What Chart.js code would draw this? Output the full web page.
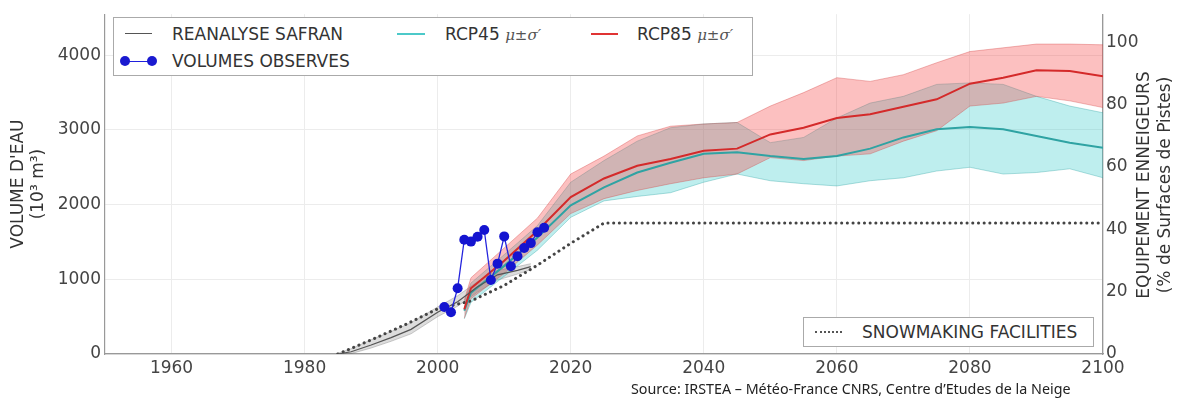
<!DOCTYPE html>
<html>
<head>
<meta charset="utf-8">
<script src="https://cdn.jsdelivr.net/npm/chart.js@4.4.0/dist/chart.umd.min.js"></script>
<style>
  body { margin: 0; background: #fff; }
  #wrap { position: relative; width: 1179px; height: 403px; font-family: "DejaVu Sans", sans-serif; color: #333; }
  #chart { position: absolute; left: 0; top: 0; }
  .box { position: absolute; background: #fff; border: 1px solid #aaa; box-sizing: border-box; }
  .txt { position: absolute; font-size: 17px; line-height: 20px; white-space: nowrap; }
  .sw { position: absolute; height: 0; }
  .dot { position: absolute; width: 10px; height: 10px; border-radius: 50%; background: #1a1ad0; }
  .math { font-family: "DejaVu Serif", serif; font-style: italic; font-size: 15px; color: #555; }
  .rot { position: absolute; width: 320px; text-align: center; font-size: 17px; line-height: 20px; transform: rotate(-90deg); white-space: nowrap; }
  #source { position: absolute; left: 631px; top: 380px; font-family: "Noto Sans", sans-serif; font-size: 14.3px; line-height: 18px; color: #222; white-space: nowrap; }
</style>
</head>
<body>
<div id="wrap">
  <canvas id="chart" width="1179" height="403"></canvas>

  <!-- top legend -->
  <div class="box" style="left:113px; top:17px; width:640px; height:59px;"></div>
  <div class="sw" style="left:125px; top:33px; width:27px; border-top:1.5px solid #555;"></div>
  <div class="txt" style="left:172px; top:24px;">REANALYSE SAFRAN</div>
  <div class="sw" style="left:126px; top:61px; width:26px; border-top:1.5px solid #2020dd;"></div>
  <div class="dot" style="left:120px; top:56px;"></div>
  <div class="dot" style="left:147px; top:56px;"></div>
  <div class="txt" style="left:172px; top:51px;">VOLUMES OBSERVES</div>
  <div class="sw" style="left:397px; top:33px; width:28px; border-top:2px solid #4cc9c9;"></div>
  <div class="txt" style="left:445px; top:24px;">RCP45 <span class="math">μ±σ′</span></div>
  <div class="sw" style="left:591px; top:33px; width:27px; border-top:2px solid #e03333;"></div>
  <div class="txt" style="left:637px; top:24px;">RCP85 <span class="math">μ±σ′</span></div>

  <!-- bottom right legend -->
  <div class="box" style="left:803px; top:317px; width:291px; height:30px;"></div>
  <div class="sw" style="left:815px; top:331px; width:27px; border-top:2.5px dotted #555;"></div>
  <div class="txt" style="left:862px; top:322px;">SNOWMAKING FACILITIES</div>

  <!-- right axis title -->
  <div class="rot" style="left:983px; top:175px;">EQUIPEMENT ENNEIGEURS</div>
  <div class="rot" style="left:1004px; top:175px;">(% de Surfaces de Pistes)</div>

  <div id="source">Source: IRSTEA – Météo-France CNRS, Centre d’Etudes de la Neige</div>
</div>

<script>
// axes
const xTicks = [1960, 1980, 2000, 2020, 2040, 2060, 2080, 2100];
const volTicks = [0, 1000, 2000, 3000, 4000];
const pctTicks = [0, 20, 40, 60, 80, 100];

// reanalyse SAFRAN (10^3 m3)
const safranYears = [1985, 1987, 1990, 1993, 1996, 2000, 2003, 2006, 2009, 2012, 2014];
const safranMean  = [0, 30, 120, 220, 330, 560, 700, 900, 1060, 1120, 1170];
const safranUp    = [10, 70, 190, 300, 420, 630, 780, 970, 1120, 1170, 1210];
const safranLow   = [0, 5, 80, 170, 270, 500, 640, 830, 990, 1070, 1130];

// observed volumes
const obsYears   = [2001, 2002, 2003, 2004, 2005, 2006, 2007, 2008, 2009, 2010, 2011, 2012, 2013, 2014, 2015, 2016];
const obsVolumes = [630, 560, 880, 1530, 1505, 1570, 1660, 990, 1210, 1575, 1175, 1310, 1420, 1485, 1630, 1690];

// projections
const projYears = [2004, 2005, 2010, 2015, 2020, 2025, 2030, 2035, 2040, 2045, 2050, 2055, 2060, 2065, 2070, 2075, 2080, 2085, 2090, 2095, 2100];
const rcp85Mean = [600, 880, 1250, 1650, 2100, 2350, 2520, 2610, 2720, 2750, 2940, 3030, 3160, 3210, 3310, 3410, 3620, 3700, 3800, 3790, 3720];
const rcp85Up   = [720, 1020, 1420, 1820, 2410, 2650, 2920, 3050, 3080, 3100, 3320, 3500, 3700, 3650, 3740, 3900, 4050, 4100, 4150, 4150, 4140];
const rcp85Low  = [480, 740, 1080, 1460, 1880, 2080, 2190, 2280, 2360, 2410, 2630, 2590, 2650, 2680, 2850, 2990, 3320, 3360, 3450, 3390, 3300];
const rcp45Mean = [580, 820, 1180, 1560, 1990, 2230, 2430, 2560, 2680, 2700, 2650, 2610, 2650, 2750, 2900, 3010, 3040, 3010, 2920, 2830, 2760];
const rcp45Up   = [700, 950, 1330, 1720, 2300, 2590, 2850, 3030, 3080, 3100, 2830, 2900, 3160, 3360, 3450, 3610, 3630, 3610, 3450, 3320, 3230];
const rcp45Low  = [470, 690, 1040, 1390, 1830, 2050, 2110, 2160, 2300, 2410, 2320, 2280, 2250, 2320, 2360, 2450, 2500, 2410, 2430, 2480, 2360];

// snowmaking facilities (% of ski slopes)
const snowYears = [1985, 1990, 1995, 2000, 2005, 2010, 2015, 2020, 2025, 2100];
const snowPct   = [0, 4.5, 9.3, 14.5, 17, 22, 28.5, 35.5, 42, 42];

function pts(xs, ys) {
  return xs.map(function (x, i) { return { x: x, y: ys[i] }; });
}

function line(data, color, width, order, extra) {
  return Object.assign({
    data: data, borderColor: color, borderWidth: width, pointRadius: 0,
    fill: false, order: order, yAxisID: "y", tension: 0
  }, extra || {});
}

// plain numbers, no thousands separator
function plain(v) { return String(v); }
const tickFont = { family: "DejaVu Sans", size: 17 };

const ctx = document.getElementById("chart").getContext("2d");
new Chart(ctx, {
  type: "line",
  data: {
    datasets: [
      line(pts(safranYears, safranMean), "#555", 1.2, 1),                       // 0
      line(pts(obsYears, obsVolumes), "#2424dd", 1.3, 0, {                       // 1
        pointRadius: 5, pointBackgroundColor: "#1414d0", pointBorderWidth: 0
      }),
      line(pts(projYears, rcp85Mean), "#d42a2a", 2, 2),                          // 2
      line(pts(projYears, rcp45Mean), "#2fa3a3", 2, 3),                          // 3
      line(pts(snowYears, snowPct), "#444", 3, 4, {                              // 4
        yAxisID: "y2", borderDash: [0.1, 5.6], borderCapStyle: "round"
      }),
      line(pts(projYears, rcp85Up), "rgba(210,60,60,0.35)", 1, 6),              // 5
      line(pts(projYears, rcp85Low), "rgba(210,60,60,0.35)", 1, 6, {            // 6
        fill: 5, backgroundColor: "rgba(245,60,60,0.32)"
      }),
      line(pts(projYears, rcp45Up), "rgba(40,160,160,0.35)", 1, 8),             // 7
      line(pts(projYears, rcp45Low), "rgba(40,160,160,0.35)", 1, 8, {           // 8
        fill: 7, backgroundColor: "rgba(40,200,200,0.30)"
      }),
      line(pts(safranYears, safranUp), "rgba(100,100,100,0.3)", 1, 9),          // 9
      line(pts(safranYears, safranLow), "rgba(100,100,100,0.3)", 1, 9, {        // 10
        fill: 9, backgroundColor: "rgba(120,120,120,0.25)"
      })
    ]
  },
  options: {
    responsive: false,
    animation: false,
    layout: { padding: { top: 13, left: 0, right: 0, bottom: 0 } },
    plugins: { legend: { display: false }, tooltip: { enabled: false } },
    scales: {
      x: {
        type: "linear", min: 1950, max: 2100,
        afterBuildTicks: function (s) { s.ticks = xTicks.map(function (v) { return { value: v }; }); },
        afterFit: function (s) { s.height = 49; },
        ticks: { color: "#444", font: tickFont, padding: 4, maxRotation: 0, callback: plain },
        grid: { color: "#ececec", drawTicks: false },
        border: { color: "#999", width: 1.2 }
      },
      y: {
        type: "linear", position: "left", min: 0, max: 4550,
        afterBuildTicks: function (s) { s.ticks = volTicks.map(function (v) { return { value: v }; }); },
        afterFit: function (s) { s.width = 105; },
        ticks: { color: "#444", font: tickFont, padding: 4, callback: plain },
        grid: { color: "#ececec", drawTicks: false },
        border: { color: "#999", width: 1.2 },
        title: {
          display: true, text: ["VOLUME D'EAU", "(10³ m³)"], color: "#333",
          font: { family: "DejaVu Sans", size: 17 }, padding: { top: 8, bottom: 0 }
        }
      },
      y2: {
        type: "linear", position: "right", min: 0, max: 109,
        afterBuildTicks: function (s) { s.ticks = pctTicks.map(function (v) { return { value: v }; }); },
        afterFit: function (s) { s.width = 76; },
        ticks: { color: "#444", font: tickFont, padding: 3, callback: plain },
        grid: { display: false, drawTicks: false },
        border: { color: "#999", width: 1.2 }
      }
    }
  }
});
</script>
</body>
</html>
